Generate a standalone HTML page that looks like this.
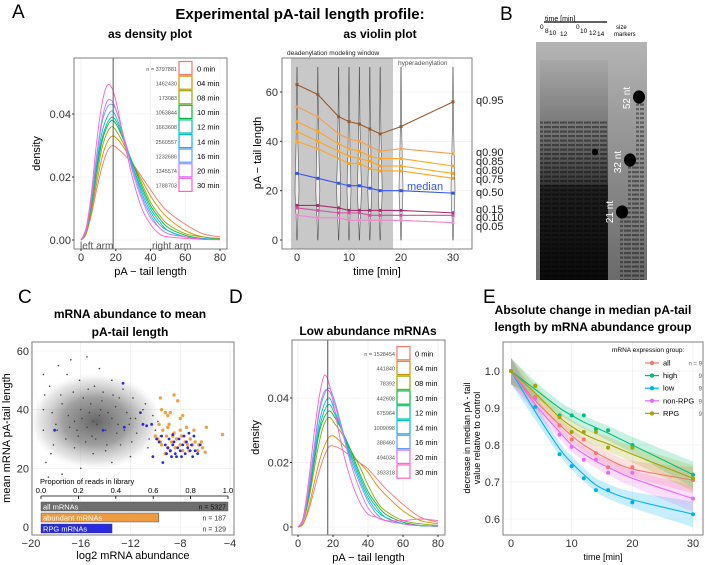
<!DOCTYPE html>
<html><head><meta charset="utf-8"><style>
html,body{margin:0;padding:0;background:#fff}
svg{display:block;font-family:"Liberation Sans",Arial,sans-serif}
</style></head><body>
<svg id="fig" width="705" height="565" viewBox="0 0 705 565" xmlns="http://www.w3.org/2000/svg">
<defs>
<linearGradient id="gelbg" x1="0" y1="0" x2="0" y2="1"><stop offset="0" stop-color="#b4b4b4"/><stop offset="0.5" stop-color="#8e8e8e"/><stop offset="1" stop-color="#6a6a6a"/></linearGradient>
<linearGradient id="lanebg" x1="0" y1="0" x2="0" y2="1"><stop offset="0" stop-color="#a8a8a8"/><stop offset="0.35" stop-color="#707070"/><stop offset="0.6" stop-color="#303030"/><stop offset="1" stop-color="#111"/></linearGradient>
<pattern id="bands" width="8" height="4.5" patternUnits="userSpaceOnUse"><rect x="0" y="0" width="7" height="2.2" fill="#000" opacity="0.4"/></pattern>
<radialGradient id="haze"><stop offset="0" stop-color="#555" stop-opacity="0.9"/><stop offset="0.5" stop-color="#777" stop-opacity="0.7"/><stop offset="0.85" stop-color="#aaa" stop-opacity="0.3"/><stop offset="1" stop-color="#ccc" stop-opacity="0"/></radialGradient>
</defs>
<g id="root"></g>
</svg>
<script>
// ===== Data arrays =====
const densX=[0,3,6,9,12,15,18,21,25,30,35,40,45,50,60,70,80];
const timeLabels=['0 min','04 min','08 min','10 min','12 min','14 min','16 min','20 min','30 min'];
const hueColors=['#F8766D','#D39200','#93AA00','#00BA38','#00C19F','#00B9E3','#619CFF','#DB72FB','#FF61C3'];
const nA=['n = 3797881','1462430','173083','1063844','1663608','2560557','1232686','1345574','1788703'];
const densA0=[0,0.002,0.008,0.016,0.023,0.028,0.030,0.029,0.027,0.024,0.020,0.016,0.012,0.009,0.005,0.002,0.001];
const densA4=[0,0.002,0.009,0.018,0.026,0.031,0.033,0.032,0.029,0.024,0.019,0.014,0.010,0.007,0.003,0.001,0.0005];
const densA8=[0,0.002,0.010,0.020,0.029,0.034,0.036,0.034,0.030,0.024,0.018,0.012,0.008,0.005,0.002,0.001,0.0003];
const densA10=[0,0.003,0.011,0.022,0.031,0.036,0.038,0.036,0.031,0.024,0.017,0.011,0.007,0.004,0.0015,0.0005,0.0002];
const densA12=[0,0.003,0.011,0.023,0.032,0.037,0.039,0.037,0.031,0.023,0.016,0.010,0.006,0.003,0.001,0.0005,0.0002];
const densA14=[0,0.003,0.012,0.024,0.034,0.039,0.041,0.038,0.032,0.023,0.015,0.009,0.005,0.003,0.001,0.0004,0.0002];
const densA16=[0,0.003,0.013,0.026,0.037,0.042,0.043,0.040,0.032,0.022,0.014,0.008,0.004,0.002,0.001,0.0003,0.0001];
const densA20=[0,0.003,0.013,0.027,0.038,0.044,0.044,0.040,0.032,0.021,0.013,0.007,0.004,0.002,0.001,0.0003,0.0001];
const densA30=[0,0.004,0.015,0.031,0.043,0.049,0.048,0.042,0.031,0.019,0.010,0.005,0.002,0.001,0.0005,0.0002,0.0001];
const nD=['n = 1528454','441840','78392','442608','675964','1009098','388460','494034','393318'];
const densD0=[0,0.001,0.005,0.011,0.017,0.022,0.025,0.025,0.024,0.022,0.020,0.018,0.015,0.012,0.007,0.003,0.0015];
const densD4=[0,0.001,0.006,0.013,0.020,0.025,0.028,0.028,0.026,0.023,0.020,0.017,0.013,0.010,0.005,0.002,0.001];
const densD8=[0,0.002,0.008,0.017,0.026,0.032,0.034,0.032,0.029,0.024,0.019,0.013,0.008,0.005,0.002,0.001,0.0005];
const densD10=[0,0.002,0.009,0.019,0.029,0.034,0.036,0.034,0.030,0.024,0.017,0.011,0.007,0.004,0.0015,0.0005,0.0003];
const densD12=[0,0.002,0.010,0.020,0.030,0.036,0.038,0.035,0.030,0.023,0.016,0.010,0.006,0.003,0.001,0.0004,0.0002];
const densD14=[0,0.002,0.010,0.021,0.032,0.038,0.040,0.036,0.030,0.022,0.015,0.009,0.005,0.003,0.001,0.0004,0.0002];
const densD16=[0,0.002,0.011,0.023,0.035,0.041,0.043,0.039,0.031,0.021,0.014,0.008,0.004,0.002,0.001,0.0004,0.0002];
const densD20=[0,0.002,0.012,0.024,0.036,0.042,0.042,0.038,0.030,0.020,0.012,0.006,0.003,0.002,0.001,0.0005,0.0003];
const densD30=[0,0.003,0.014,0.028,0.040,0.047,0.044,0.036,0.025,0.015,0.008,0.004,0.003,0.002,0.002,0.0025,0.002];
const vTimes=[0,4,8,10,12,14,16,20,30];
const q95=[63,59,50,48,47,45,43,46,56];
const q90=[54,50,43,41,40,38,36,37,35];
const q85=[48,44,39,37,36,34,33,33,30];
const q80=[44,40,36,34,33,32,30,30,27];
const q75=[40,37,33,31,31,29,28,28,25];
const q50=[27,25,23,22,22,21,20,20,19];
const q15=[14,14,13,12,12,12,12,12,11];
const q10=[13,12,11,11,11,10,10,10,10];
const q05=[10,9,9,8,8,8,8,8,7];
const qNames=['q0.95','q0.90','q0.85','q0.80','q0.75','q0.50','q0.15','q0.10','q0.05'];
const grayPts=[[-15,36],[-14.5,38],[-15.5,34],[-16,40],[-14,33],[-13.5,37],[-16.5,36],[-15.2,42],[-14.8,30],[-17,38],[-13,35],[-12.5,33],[-16.2,31],[-15.8,44],[-14.2,46],[-17.5,42],[-18,35],[-18.5,48],[-13.2,41],[-12,37],[-11.5,32],[-11,35],[-10.5,30],[-10,33],[-12.8,28],[-14,26],[-15,25],[-16.5,27],[-17.2,30],[-18.2,28],[-19,40],[-19,52],[-18.8,22],[-17.8,55],[-16.8,57],[-15.5,58],[-14.5,54],[-13.5,50],[-12.6,47],[-11.8,44],[-11,40],[-10.2,38],[-9.8,36],[-9.6,31],[-12,24],[-13.5,22],[-16,20],[-17.5,18],[-18.6,17],[-15.3,39],[-14.7,35],[-15.9,37],[-13.8,39],[-16.3,33],[-14.4,40],[-15.1,31],[-13.1,32],[-16.9,34],[-17.6,45],[-18.3,39],[-12.3,39],[-11.6,37],[-10.8,42],[-12.9,44],[-14.9,48],[-16.1,50],[-17.1,52],[-18.9,45],[-19,33],[-18.4,25],[-13.9,28],[-11.9,29],[-10.6,27],[-15.6,29],[-14.3,43],[-13.4,45],[-16.6,46],[-17.9,33],[-15.4,47],[-12.1,35]];
const orangePts=[[-9.6,44],[-8.5,45],[-8.2,43],[-9.5,40],[-9.2,39],[-9,38],[-8.8,39],[-8,37],[-7.8,38],[-9.7,35],[-9.4,33],[-9,34],[-8.5,32],[-8,33],[-7.5,34],[-6.9,33],[-5.9,34],[-4.6,31.5],[-9.8,30],[-9.5,28],[-9,27],[-8.7,29],[-8.3,30],[-8,28],[-7.6,29],[-7.2,30],[-6.8,29],[-6.5,28],[-6.2,27],[-6,25.5],[-9.2,25],[-8.8,26],[-8.4,27],[-7.8,26],[-7.3,26],[-9.6,29],[-10,31],[-8.6,31],[-7.9,31],[-7,28],[-6.6,26],[-9.1,31],[-8.9,35],[-7.4,28],[-6.3,29]];
const bluePts=[[-12.6,49],[-11.2,39],[-11,35],[-10.7,34.5],[-10.3,35],[-12.5,34],[-14.2,33],[-18.1,33],[-9.9,30],[-9.7,29],[-10.2,24],[-9.4,22],[-9.2,28],[-9,27],[-8.8,26],[-8.6,28],[-8.4,25],[-8.2,27],[-8,26],[-7.8,28],[-7.6,25],[-7.4,27],[-7.2,26],[-7,24],[-6.8,26],[-8.5,29],[-8.3,24],[-8.1,30],[-7.9,24],[-7.7,31],[-9.1,25],[-8.9,30],[-8.7,24],[-7.5,29],[-7.1,28],[-6.6,25],[-6.4,28],[-9.5,31],[-8.6,31.5],[-7.3,32],[-6.9,31]];
const propLabels=['all mRNAs','abundant mRNAs','RPG mRNAs'];
const propValues=[1.0,0.63,0.38];
const propN=['n = 5327','n = 187','n = 129'];
const eTimes=[0,4,8,10,12,14,16,20,30];
const eGroups=['all','high','low','non-RPG','RPG'];
const eColors=['#F8766D','#00BF7D','#00B0F6','#E76BF3','#A3A500'];
const eAll=[1.0,0.93,0.853,0.815,0.815,0.778,0.74,0.74,0.705];
const eHigh=[1.0,0.96,0.88,0.88,0.88,0.843,0.84,0.80,0.72];
const eLow=[1.0,0.903,0.775,0.743,0.71,0.678,0.678,0.645,0.613];
const eNon=[1.0,0.925,0.828,0.795,0.76,0.76,0.725,0.725,0.655];
const eRPG=[1.0,0.96,0.875,0.835,0.835,0.835,0.793,0.793,0.71];
const fAll=[1.0,0.92,0.855,0.825,0.80,0.78,0.762,0.735,0.705];
const fHigh=[1.0,0.95,0.90,0.88,0.862,0.847,0.832,0.80,0.72];
const fLow=[1.0,0.89,0.79,0.752,0.72,0.692,0.675,0.652,0.613];
const fNon=[1.0,0.91,0.835,0.80,0.776,0.756,0.74,0.71,0.655];
const fRPG=[1.0,0.94,0.875,0.85,0.83,0.815,0.803,0.775,0.71];
const ribbonW=[0.035,0.022,0.018,0.018,0.018,0.018,0.02,0.022,0.035];

const NS='http://www.w3.org/2000/svg';
const root=document.getElementById('root');
function mk(tag,attrs,parent){const e=document.createElementNS(NS,tag);for(const k in attrs)e.setAttribute(k,attrs[k]);(parent||root).appendChild(e);return e;}
function txt(s,x,y,size,opts,name){const o=Object.assign({x:x,y:y,'font-size':size,fill:'#000'},opts||{});const t=mk('text',o);t.textContent=s;


return t;}
function lin(d0,d1,r0,r1){return v=>r0+(v-d0)*(r1-r0)/(d1-d0);}
function smoothPath(pts){let d='M'+pts[0][0]+','+pts[0][1];for(let i=0;i<pts.length-1;i++){const p0=pts[i-1]||pts[i],p1=pts[i],p2=pts[i+1],p3=pts[i+2]||p2;const c1x=p1[0]+(p2[0]-p0[0])/6,c1y=p1[1]+(p2[1]-p0[1])/6,c2x=p2[0]-(p3[0]-p1[0])/6,c2y=p2[1]-(p3[1]-p1[1])/6;d+=' C'+c1x+','+c1y+' '+c2x+','+c2y+' '+p2[0]+','+p2[1];}return d;}
function panelBox(x0,y0,x1,y1,name){const r=mk('rect',{x:x0,y:y0,width:x1-x0,height:y1-y0,fill:'none',stroke:'#7f7f7f','stroke-width':1});

}
function grid(xs,ys,x0,y0,x1,y1){for(const gx of xs)mk('line',{x1:gx,y1:y0,x2:gx,y2:y1,stroke:'#ebebeb','stroke-width':0.6});for(const gy of ys)mk('line',{x1:x0,y1:gy,x2:x1,y2:gy,stroke:'#ebebeb','stroke-width':0.6});}

// ===== Titles =====
txt('A',12,18,19,{},'panel-label-a');
txt('Experimental pA-tail length profile:',300,19,15,{'font-weight':'bold','text-anchor':'middle'},'main-title');
txt('as density plot',150,38,12,{'font-weight':'bold','text-anchor':'middle'},'density-plot-title');
txt('as violin plot',380,38,12,{'font-weight':'bold','text-anchor':'middle'},'violin-plot-title');
txt('B',500,20,19,{},'panel-label-b');
txt('C',18,303,19,{},'panel-label-c');
txt('D',229,303,19,{},'panel-label-d');
txt('E',483,303,19,{},'panel-label-e');

// ===== Density plots =====
function densityPanel(cfg){
 const sx=lin(0,80,cfg.x0v,cfg.x80v), sy=lin(0,0.04,cfg.y0v,cfg.y04v);
 grid([0,20,40,60,80].map(sx),[0,0.02,0.04].map(sy),cfg.bx0,cfg.by0,cfg.bx1,cfg.by1);
 cfg.series.forEach((arr,i)=>{const p=mk('path',{d:smoothPath(densX.map((x,j)=>[sx(x),sy(arr[j])])),fill:'none',stroke:hueColors[i],'stroke-width':0.9});
  
  });
 mk('line',{x1:sx(cfg.vline),y1:cfg.by0,x2:sx(cfg.vline),y2:cfg.by1,stroke:'#555','stroke-width':1});
 panelBox(cfg.bx0,cfg.by0,cfg.bx1,cfg.by1,cfg.name+'-panel');
 cfg.yt.forEach((v,i)=>{txt(cfg.ytl[i],cfg.bx0-3,sy(v)+4,11,{'text-anchor':'end',fill:'#333'},'y-tick-label');mk('line',{x1:cfg.bx0-2,y1:sy(v),x2:cfg.bx0,y2:sy(v),stroke:'#333'});});
 [0,20,40,60,80].forEach(v=>{txt(String(v),sx(v),cfg.by1+12,11,{'text-anchor':'middle',fill:'#333'},'x-tick-label');mk('line',{x1:sx(v),y1:cfg.by1,x2:sx(v),y2:cfg.by1+2,stroke:'#333'});});
 txt('pA − tail length',(cfg.bx0+cfg.bx1)/2,cfg.by1+26,11,{'text-anchor':'middle'},'x-axis-title');
 txt('density',0,0,11,{'text-anchor':'middle',transform:'translate('+cfg.ytx+','+((cfg.by0+cfg.by1)/2)+') rotate(-90)'},'y-axis-title');
 const lh=cfg.lh;
 cfg.nlab.forEach((n,i)=>{const yy=cfg.ly+i*lh;
  const r=mk('rect',{x:cfg.lx,y:yy+0.5,width:13,height:lh-1.5,fill:'#fff',stroke:hueColors[i],'stroke-width':1.2});
  
  
  txt(timeLabels[i],cfg.lx+18,yy+lh/2+3,7.5,{},'legend-entry');
  txt(n,cfg.lx-2,yy+lh/2+2.5,5.5,{'text-anchor':'end',fill:'#555'},'legend-n-count');});
}
densityPanel({name:'density-a',bx0:74,by0:58,bx1:227,by1:249,x0v:81,x80v:220,y0v:240,y04v:114,vline:18.5,
 series:[densA0,densA4,densA8,densA10,densA12,densA14,densA16,densA20,densA30],yt:[0,0.02,0.04],ytl:['0.00','0.02','0.04'],ytx:40,
 nlab:nA,lx:179,ly:61,lh:14.6});
txt('left arm',80,249,10,{fill:'#555'},'left-arm-label');
txt('right arm',152,249,10,{fill:'#555'},'right-arm-label');
densityPanel({name:'density-d',bx0:292,by0:340,bx1:445,by1:535,x0v:298,x80v:438,y0v:527,y04v:398,vline:17,
 series:[densD0,densD4,densD8,densD10,densD12,densD14,densD16,densD20,densD30],yt:[0,0.02,0.04],ytl:['0','0.02','0.04'],ytx:259,
 nlab:nD,lx:397,ly:346,lh:14.8});
txt('Low abundance mRNAs',368,335,12,{'font-weight':'bold','text-anchor':'middle'},'low-abundance-title');

// ===== Violin panel =====
(function(){
 const bx0=282,by0=58,bx1=472,by1=249;const sx=lin(0,30,297,453), sy=lin(0,60,240,92);
 grid([0,10,20,30].map(sx),[0,20,40,60].map(sy),bx0,by0,bx1,by1);
 const g=mk('rect',{x:291,y:by0,width:102,height:by1-by0,fill:'#c8c8c8'});
 
 
 txt('deadenylation modeling window',287,55,6.5,{fill:'#222'},'window-label');
 txt('hyperadenylation',398,65,6.5,{fill:'#555'},'hyperadenylation-label');
 vTimes.forEach(t=>{const x=sx(t);const ys=[0,5,10,15,20,25,30,40,50,60,70];const w=[0.2,0.5,1.0,1.6,2.0,1.8,1.4,0.9,0.5,0.3,0.15];
  let d='M'+x+','+sy(0);ys.forEach((v,i)=>d+=' L'+(x+w[i])+','+sy(v));for(let i=ys.length-1;i>=0;i--)d+=' L'+(x-w[i])+','+sy(ys[i]);d+='Z';
  const v=mk('path',{d:d,fill:'#eee',stroke:'#555','stroke-width':0.6});
  
  });
 const qs=[q95,q90,q85,q80,q75,q50,q15,q10,q05];
 const qc=['#9c5a2a','#f0a050','#ffa520','#ffa520','#ffa520','#3355ee','#a83070','#d050a0','#ee88cc'];
 qs.forEach((arr,i)=>{const p=mk('polyline',{points:vTimes.map((t,j)=>sx(t)+','+sy(arr[j])).join(' '),fill:'none',stroke:qc[i],'stroke-width':1.1});
  
  
  vTimes.forEach((t,j)=>{mk('rect',{x:sx(t)-1.5,y:sy(arr[j])-1.5,width:3,height:3,fill:qc[i]});});});
 panelBox(bx0,by0,bx1,by1,'violin-panel');
 [0,20,40,60].forEach(v=>{txt(String(v),bx0-4,sy(v)+4,11,{'text-anchor':'end',fill:'#333'},'y-tick-label');mk('line',{x1:bx0-2,y1:sy(v),x2:bx0,y2:sy(v),stroke:'#333'});});
 [0,10,20,30].forEach(v=>{txt(String(v),sx(v),by1+12,11,{'text-anchor':'middle',fill:'#333'},'x-tick-label');});
 txt('time [min]',377,275,11,{'text-anchor':'middle'},'x-axis-title');
 txt('pA − tail length',0,0,11,{'text-anchor':'middle',transform:'translate(261,153) rotate(-90)'},'y-axis-title');
 txt('median',407,190,11,{fill:'#3355ee'},'median-label');
 const qy=[104,156,165,174,183,196,213,221,230];
 qNames.forEach((n,i)=>txt(n,476,qy[i],11,{fill:'#222'},'quantile-label'));
})();

// ===== Gel (panel B) =====
(function(){
 txt('time [min]',545,21,7,{},'gel-time-label');
 mk('line',{x1:544,y1:22,x2:607,y2:22,stroke:'#000','stroke-width':1.2});
 [['0',540,29],['8',545,33],['10',549,35],['12',560,36],['0',576,29],['10',580,33],['12',589,35],['14',597,36]].forEach(a=>txt(a[0],a[1],a[2],6.5,{},'lane-time-label'));
 txt('size',616,29,6,{},'size-markers-label');txt('markers',614,36,6,{},'size-markers-label');
 const bg=mk('rect',{x:536,y:42,width:111,height:238,fill:'url(#gelbg)'});
 
 
 mk('rect',{x:540,y:60,width:68,height:220,fill:'url(#lanebg)'});
 mk('rect',{x:540,y:120,width:68,height:160,fill:'url(#bands)'});
 mk('rect',{x:540,y:185,width:68,height:95,fill:'#000',opacity:0.35});
 mk('rect',{x:620,y:205,width:8,height:75,fill:'url(#bands)'});
 mk('rect',{x:628,y:160,width:8,height:120,fill:'url(#bands)'});
 mk('rect',{x:636,y:95,width:8,height:185,fill:'url(#bands)'});
 [[639,97,6],[630,160,6],[622,212,6],[595,152,3]].forEach(a=>mk('ellipse',{cx:a[0],cy:a[1],rx:a[2],ry:a[2]*1.1,fill:'#000'}));
 txt('52 nt',0,0,10,{fill:'#fff','text-anchor':'middle',transform:'translate(630,98) rotate(-90)'},'marker-52nt');
 txt('32 nt',0,0,10,{fill:'#fff','text-anchor':'middle',transform:'translate(621,162) rotate(-90)'},'marker-32nt');
 txt('21 nt',0,0,10,{fill:'#fff','text-anchor':'middle',transform:'translate(613,212) rotate(-90)'},'marker-21nt');
})();

// ===== Panel C scatter =====
(function(){
 const bx0=32,by0=342,bx1=234,by1=535;const sx=lin(-20,-4,31,230), sy=lin(0,60,527,351);
 txt('mRNA abundance to mean',130,318,12,{'font-weight':'bold','text-anchor':'middle'},'scatter-title');
 txt('pA-tail length',130,336,12,{'font-weight':'bold','text-anchor':'middle'},'scatter-title');
 grid([-20,-16,-12,-8,-4].map(sx),[0,20,40,60].map(sy),bx0,by0,bx1,by1);
 const h=mk('ellipse',{cx:sx(-14.8),cy:sy(36),rx:66,ry:48,fill:'url(#haze)'});
 
 
 grayPts.forEach(p=>mk('circle',{cx:sx(p[0]),cy:sy(p[1]),r:0.8,fill:'#444'}));
 orangePts.forEach(p=>mk('circle',{cx:sx(p[0]),cy:sy(p[1]),r:1.7,fill:'#f0a040'}));
 bluePts.forEach(p=>mk('circle',{cx:sx(p[0]),cy:sy(p[1]),r:1.4,fill:'#2a2ae0'}));
 panelBox(bx0,by0,bx1,by1,'scatter-panel');
 [0,20,40,60].forEach(v=>{txt(String(v),bx0-3,sy(v)+4,11,{'text-anchor':'end',fill:'#333'},'y-tick-label');});
 [-20,-16,-12,-8,-4].forEach(v=>{txt(v<0?'−'+(-v):String(v),sx(v),by1+12,11,{'text-anchor':'middle',fill:'#333'},'x-tick-label');});
 txt('log2 mRNA abundance',133,559,11,{'text-anchor':'middle'},'x-axis-title');
 txt('mean mRNA pA-tail length',0,0,11,{'text-anchor':'middle',transform:'translate(10,438) rotate(-90)'},'y-axis-title');
 const px=lin(0,1,41,228);
 txt('Proportion of reads in library',40,484,7.5,{},'proportion-axis-title');
 mk('line',{x1:px(0),y1:496,x2:px(1),y2:496,stroke:'#000','stroke-width':0.8});
 [0,0.2,0.4,0.6,0.8,1.0].forEach(v=>{mk('line',{x1:px(v),y1:496,x2:px(v),y2:499,stroke:'#000','stroke-width':0.8});txt(v.toFixed(1),px(v),493,7.5,{'text-anchor':'middle'},'proportion-tick-label');});
 const bc=['#6e6e6e','#ee9a40','#2a2ae0'],by=[502,513,524];
 propValues.forEach((v,i)=>{const r=mk('rect',{x:px(0),y:by[i],width:px(v)-px(0),height:9,fill:bc[i],stroke:'#444','stroke-width':0.4});
  
  
  txt(propLabels[i],px(0)+2,by[i]+7.5,7.5,{fill:'#fff'},'proportion-bar-label');
  txt(propN[i],226,by[i]+7.5,7,{'text-anchor':'end',fill:i==0?'#111':'#333'},'proportion-n');});
})();

// ===== Panel E =====
(function(){
 const bx0=503,by0=342,bx1=703,by1=535;const sx=lin(0,30,511,693), sy=lin(0.6,1.0,519,371);
 txt('Absolute change in median pA-tail',593,314,12,{'font-weight':'bold','text-anchor':'middle'},'abundance-group-title');
 txt('length by mRNA abundance group',593,331,12,{'font-weight':'bold','text-anchor':'middle'},'abundance-group-title');
 grid([0,10,20,30].map(sx),[0.6,0.7,0.8,0.9,1.0].map(sy),bx0,by0,bx1,by1);
 const pts=[eAll,eHigh,eLow,eNon,eRPG], fits=[fAll,fHigh,fLow,fNon,fRPG];
 fits.forEach((f,i)=>{const up=eTimes.map((t,j)=>[sx(t),sy(f[j]+ribbonW[j])]);const lo=eTimes.map((t,j)=>[sx(t),sy(f[j]-ribbonW[j])]).reverse();
  const lp=smoothPath(lo);
  const d=smoothPath(up)+' L'+lo[0][0]+','+lo[0][1]+lp.slice(lp.indexOf(' C'))+'Z';
  const r=mk('path',{d:d,fill:eColors[i],opacity:0.22});
  
  });
 fits.forEach((f,i)=>{const p=mk('path',{d:smoothPath(eTimes.map((t,j)=>[sx(t),sy(f[j])])),fill:'none',stroke:eColors[i],'stroke-width':1.1});
  
  });
 pts.forEach((a,i)=>eTimes.forEach((t,j)=>mk('circle',{cx:sx(t),cy:sy(a[j]),r:2,fill:eColors[i]})));
 panelBox(bx0,by0,bx1,by1,'abundance-group-panel');
 [0.6,0.7,0.8,0.9,1.0].forEach(v=>txt(v.toFixed(1),bx0-3,sy(v)+4,11,{'text-anchor':'end',fill:'#333'},'y-tick-label'));
 [0,10,20,30].forEach(v=>txt(String(v),sx(v),by1+12,11,{'text-anchor':'middle',fill:'#333'},'x-tick-label'));
 txt('time [min]',603,560,9,{'text-anchor':'middle'},'x-axis-title');
 txt('decrease in median pA - tail',0,0,9,{'text-anchor':'middle',transform:'translate(470,438) rotate(-90)'},'y-axis-title');
 txt('value relative to control',0,0,9,{'text-anchor':'middle',transform:'translate(480,438) rotate(-90)'},'y-axis-title');
 txt('mRNA expression group:',612,352,6.5,{},'legend-title');
 eGroups.forEach((g,i)=>{const yy=363+i*12.6;mk('line',{x1:645,y1:yy,x2:659,y2:yy,stroke:eColors[i],'stroke-width':1.2});
  const c=mk('circle',{cx:652,cy:yy,r:2.2,fill:eColors[i]});
  
  
  txt(g,663,yy+2.5,7.5,{},'legend-entry');
  txt(i==0?'n = 9':'9',702,yy+2.5,6,{'text-anchor':'end',fill:'#666'},'legend-n-count');});
})();
</script>
</body></html>
